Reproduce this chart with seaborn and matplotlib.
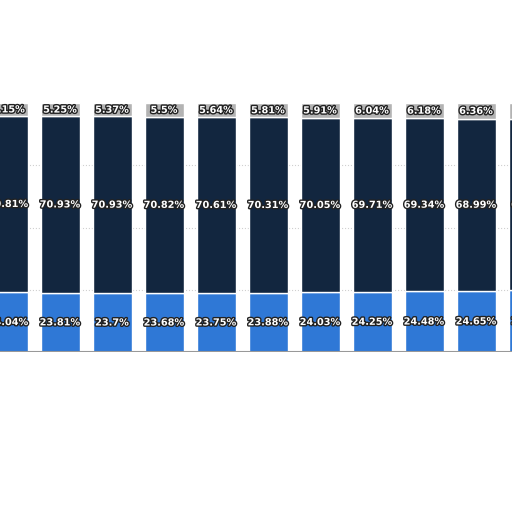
import matplotlib
matplotlib.use("Agg")
import numpy as np
import pandas as pd
import seaborn as sns
from matplotlib import pyplot as plt
import matplotlib.patheffects as pe

# Values (bottom, middle, top segments in %)
periods = ["P1", "P2", "P3", "P4", "P5", "P6", "P7", "P8", "P9", "P10", "P11"]
bottom_pct = [24.04, 23.81, 23.7, 23.68, 23.75, 23.88, 24.03, 24.25, 24.48, 24.65, 24.8]
middle_pct = [70.81, 70.93, 70.93, 70.82, 70.61, 70.31, 70.05, 69.71, 69.34, 68.99, 68.7]
top_pct = [5.15, 5.25, 5.37, 5.5, 5.64, 5.81, 5.91, 6.04, 6.18, 6.36, 6.5]

df = pd.DataFrame({"period": periods, "bottom": bottom_pct,
                   "middle": middle_pct, "top": top_pct})
df["b2"] = df["bottom"] + df["middle"]

sns.set_style("white")
fig = plt.figure(figsize=(5.12, 5.12), dpi=100)
ax = fig.add_axes([0, 160 / 512, 1, 249 / 512])

sns.barplot(data=df, x="period", y="bottom", color="#2f78d6", saturation=1,
            width=0.75, ax=ax)
sns.barplot(data=df, x="period", y="middle", bottom=df["bottom"], color="#12263f",
            saturation=1, width=0.75, ax=ax)
sns.barplot(data=df, x="period", y="top", bottom=df["b2"], color="#b3b3b3",
            saturation=1, width=0.75, ax=ax)

for y in [25, 50, 75]:
    ax.axhline(y, color="#d0d0d0", lw=0.8, ls=":", zorder=0)

stroke = [pe.withStroke(linewidth=2, foreground="#222222")]
for i, row in df.iterrows():
    for val, y in [(row["bottom"], row["bottom"] / 2),
                   (row["middle"], row["bottom"] + row["middle"] / 2),
                   (row["top"], row["b2"] + row["top"] / 2)]:
        ax.text(i, y, f"{val:g}%", ha="center", va="center", color="white",
                fontsize=7, fontweight="bold", path_effects=stroke)

ax.set_xlim(-8 / 52, -8 / 52 + 512 / 52)
ax.set_ylim(0, 100)
ax.axhline(0, color="#999999", lw=1.5)
ax.set_axis_off()

fig.savefig("out.png", dpi=100, facecolor="white")
